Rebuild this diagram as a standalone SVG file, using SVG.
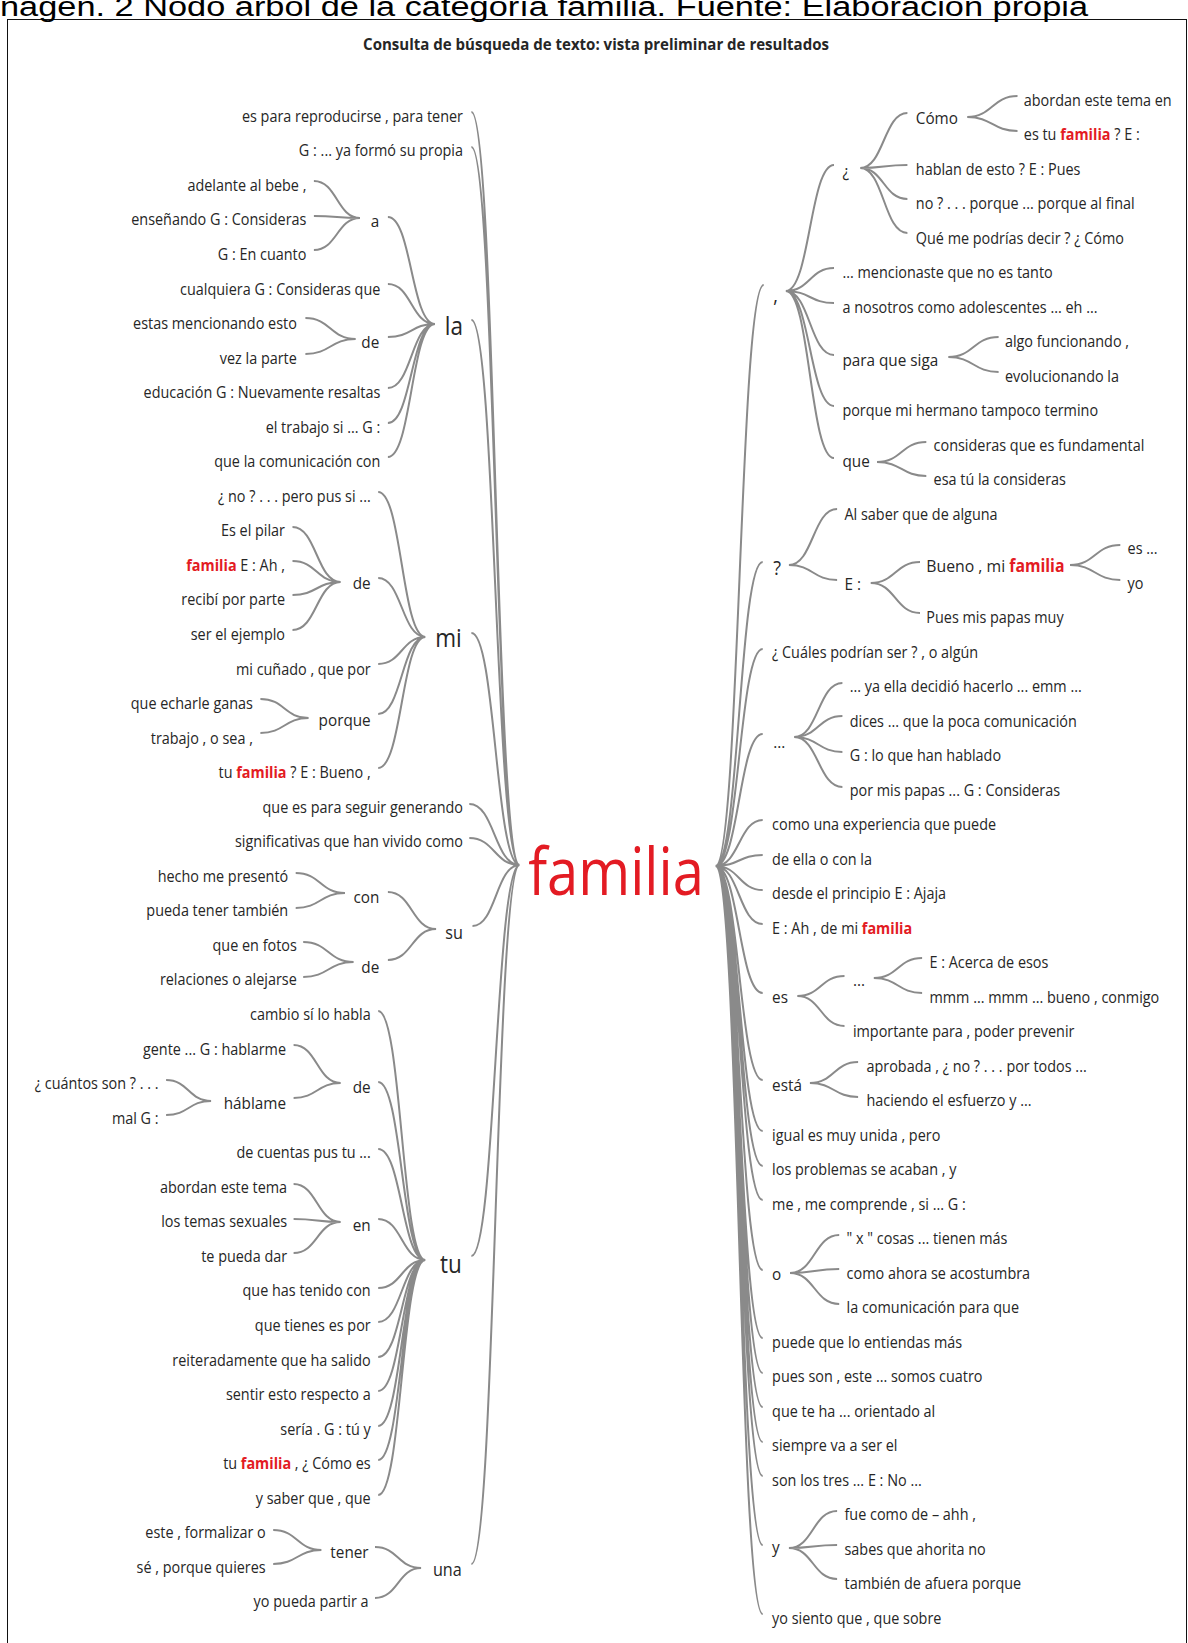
<svg xmlns="http://www.w3.org/2000/svg" width="1188" height="1643" viewBox="0 0 1188 1643">
<style>
.t{font-family:"Open Sans","Noto Sans","Liberation Sans",sans-serif;font-size:16px;fill:#262626}
.e{text-anchor:end}
.m{font-size:17px}
.b{font-size:25px}
.s{font-size:18px}
.r{fill:#e31b23;font-weight:bold}
.c path{fill:none;stroke:#8a8a8a;stroke-width:2}
</style>
<rect x="7.5" y="19.5" width="1179" height="1650" fill="#fff" stroke="#111" stroke-width="1"/>
<text x="0" y="16" font-family="Liberation Sans,Arial,sans-serif" font-size="27" fill="#000" textLength="1088" lengthAdjust="spacingAndGlyphs">nagen. 2 Nodo árbol de la categoría familia. Fuente: Elaboración propia</text>
<g id="title"><text class="t" font-weight="bold" text-anchor="middle" transform="translate(596 50) scale(.94 1)">Consulta de búsqueda de texto: vista preliminar de resultados</text></g>

<g id="connectors" class="c">
<path d="M471.4 112C495.5 112 495.5 865 519.6 865M471.4 147C495.5 147 495.5 865 519.6 865M471.4 320C495.5 320 495.5 865 519.6 865M471.4 633C495.5 633 495.5 865 519.6 865M469.3 804C494.5 804 494.5 865 519.6 865M469.3 838C494.5 838 494.5 865 519.6 865M472.5 926C496 926 496 865 519.6 865M471.4 1256C495.5 1256 495.5 865 519.6 865M471.4 1564C495.5 1564 495.5 865 519.6 865"/>
<path d="M387.9 217C411.4 217 411.4 324 435 324M387.9 284C411.4 284 411.4 324 435 324M387.9 337C411.4 337 411.4 324 435 324M387.9 388C411.4 388 411.4 324 435 324M387.9 423C411.4 423 411.4 324 435 324M387.9 457C411.4 457 411.4 324 435 324"/>
<path d="M313.9 181C337 181 337 218 360 218M313.9 216C337 216 337 218 360 218M313.9 250C337 250 337 218 360 218"/>
<path d="M305.4 318C330.5 318 330.5 339 355.7 339M305.4 354C330.5 354 330.5 339 355.7 339"/>
<path d="M378.2 492C401.8 492 401.8 637 425.4 637M378.2 578C401.8 578 401.8 637 425.4 637M378.2 664C401.8 664 401.8 637 425.4 637M378.2 714C401.8 714 401.8 637 425.4 637M378.2 768C401.8 768 401.8 637 425.4 637"/>
<path d="M292.5 527C316.6 527 316.6 582 340.7 582M292.5 561C316.6 561 316.6 582 340.7 582M292.5 595C316.6 595 316.6 582 340.7 582M292.5 630C316.6 630 316.6 582 340.7 582"/>
<path d="M260.4 699C284.5 699 284.5 718 308.6 718M260.4 733C284.5 733 284.5 718 308.6 718"/>
<path d="M387.9 892C412 892 412 929 436.1 929M387.9 960C412 960 412 929 436.1 929"/>
<path d="M295.7 873C320.4 873 320.4 893 345 893M295.7 908C320.4 908 320.4 893 345 893"/>
<path d="M303.2 942C328.4 942 328.4 962 353.6 962M303.2 977C328.4 977 328.4 962 353.6 962"/>
<path d="M378.2 1011C401.8 1011 401.8 1260 425.4 1260M378.2 1082C401.8 1082 401.8 1260 425.4 1260M378.2 1149C401.8 1149 401.8 1260 425.4 1260M378.2 1219C401.8 1219 401.8 1260 425.4 1260M378.2 1288C401.8 1288 401.8 1260 425.4 1260M378.2 1322C401.8 1322 401.8 1260 425.4 1260M378.2 1357C401.8 1357 401.8 1260 425.4 1260M378.2 1391C401.8 1391 401.8 1260 425.4 1260M378.2 1426C401.8 1426 401.8 1260 425.4 1260M378.2 1460C401.8 1460 401.8 1260 425.4 1260M378.2 1495C401.8 1495 401.8 1260 425.4 1260"/>
<path d="M293.6 1045C317.1 1045 317.1 1083 340.7 1083M293.6 1098C317.1 1098 317.1 1083 340.7 1083"/>
<path d="M166.1 1080C188.6 1080 188.6 1101 211.1 1101M166.1 1115C188.6 1115 188.6 1101 211.1 1101"/>
<path d="M293.6 1184C317.1 1184 317.1 1222 340.7 1222M293.6 1219C317.1 1219 317.1 1222 340.7 1222M293.6 1253C317.1 1253 317.1 1222 340.7 1222"/>
<path d="M375 1547C398 1547 398 1568 421.1 1568M375 1598C398 1598 398 1568 421.1 1568"/>
<path d="M273.2 1530C297.3 1530 297.3 1550 321.4 1550M273.2 1564C297.3 1564 297.3 1550 321.4 1550"/>
<path d="M715.5 866C739.6 866 739.6 285 763.7 285M715.5 866C739.1 866 739.1 562 762.7 562M715.5 866C739.1 866 739.1 649 762.7 649M715.5 866C739.1 866 739.1 734 762.7 734M715.5 866C739.1 866 739.1 820 762.7 820M715.5 866C739.1 866 739.1 855 762.7 855M715.5 866C739.1 866 739.1 890 762.7 890M715.5 866C739.1 866 739.1 924 762.7 924M715.5 866C739.1 866 739.1 993 762.7 993M715.5 866C739.1 866 739.1 1080 762.7 1080M715.5 866C739.1 866 739.1 1131 762.7 1131M715.5 866C739.1 866 739.1 1166 762.7 1166M715.5 866C739.1 866 739.1 1200 762.7 1200M715.5 866C739.1 866 739.1 1270 762.7 1270M715.5 866C739.1 866 739.1 1338 762.7 1338M715.5 866C739.1 866 739.1 1373 762.7 1373M715.5 866C739.1 866 739.1 1407 762.7 1407M715.5 866C739.1 866 739.1 1442 762.7 1442M715.5 866C739.1 866 739.1 1476 762.7 1476M715.5 866C739.1 866 739.1 1545 762.7 1545M715.5 866C739.1 866 739.1 1614 762.7 1614"/>
<path d="M785.8 291C809.9 291 809.9 165 834 165M785.8 291C809.9 291 809.9 268 834 268M785.8 291C809.9 291 809.9 303 834 303M785.8 291C809.9 291 809.9 355 834 355M785.8 291C809.9 291 809.9 406 834 406M785.8 291C809.9 291 809.9 458 834 458"/>
<path d="M860.2 168C883.8 168 883.8 113 907.4 113M860.2 168C883.8 168 883.8 165 907.4 165M860.2 168C883.8 168 883.8 199 907.4 199M860.2 168C883.8 168 883.8 233 907.4 233"/>
<path d="M967.2 117C992.3 117 992.3 96 1017.5 96M967.2 117C992.3 117 992.3 131 1017.5 131"/>
<path d="M948.3 357C973.5 357 973.5 337 998.6 337M948.3 357C973.5 357 973.5 372 998.6 372"/>
<path d="M877 462C901.6 462 901.6 442 926.3 442M877 462C901.6 462 901.6 476 926.3 476"/>
<path d="M788.9 565C813 565 813 509 837.1 509M788.9 565C813 565 813 580 837.1 580"/>
<path d="M870.7 583C895.3 583 895.3 562 920 562M870.7 583C895.3 583 895.3 613 920 613"/>
<path d="M1070 565C1095.1 565 1095.1 545 1120.3 545M1070 565C1095.1 565 1095.1 580 1120.3 580"/>
<path d="M794.1 737C818.3 737 818.3 683 842.4 683M794.1 737C818.3 737 818.3 716 842.4 716M794.1 737C818.3 737 818.3 752 842.4 752M794.1 737C818.3 737 818.3 787 842.4 787"/>
<path d="M797.3 996C820.9 996 820.9 976 844.5 976M797.3 996C820.9 996 820.9 1026 844.5 1026"/>
<path d="M873.8 978C898 978 898 958 922.1 958M873.8 978C898 978 898 993 922.1 993"/>
<path d="M809.9 1083C834 1083 834 1062 858.1 1062M809.9 1083C834 1083 834 1097 858.1 1097"/>
<path d="M790 1273C814.6 1273 814.6 1235 839.2 1235M790 1273C814.6 1273 814.6 1269 839.2 1269M790 1273C814.6 1273 814.6 1304 839.2 1304"/>
<path d="M788.9 1548C813 1548 813 1511 837.1 1511M788.9 1548C813 1548 813 1545 837.1 1545M788.9 1548C813 1548 813 1579 837.1 1579"/>
</g>

<g id="root"><text class="t" text-anchor="middle" style="font-size:66px;fill:#e31b23" transform="translate(616 895) scale(.85 1)">familia</text></g>

<g id="left-nodes">
<g id="n-la"><text class="t e b" transform="translate(463 335) scale(.9 1)">la</text></g>
<g id="n-mi"><text class="t e b" transform="translate(461.8 647) scale(.9 1)">mi</text></g>
<g id="n-su"><text class="t e s" transform="translate(463 939) scale(.9 1)">su</text></g>
<g id="n-tu"><text class="t e b" transform="translate(461.8 1273) scale(.9 1)">tu</text></g>
<g id="n-una"><text class="t e s" transform="translate(461.8 1576) scale(.9 1)">una</text></g>
<g id="n-a"><text class="t e m" transform="translate(379.3 227) scale(.9 1)">a</text></g>
<g id="n-de1"><text class="t e m" transform="translate(379.3 348) scale(.9 1)">de</text></g>
<g id="n-de2"><text class="t e m" transform="translate(370.7 589) scale(.9 1)">de</text></g>
<g id="n-porque"><text class="t e m" transform="translate(370.7 726) scale(.9 1)">porque</text></g>
<g id="n-con"><text class="t e m" transform="translate(379.3 903) scale(.9 1)">con</text></g>
<g id="n-de3"><text class="t e m" transform="translate(379.3 973) scale(.9 1)">de</text></g>
<g id="n-de4"><text class="t e m" transform="translate(370.7 1093) scale(.9 1)">de</text></g>
<g id="n-hablame"><text class="t e m" transform="translate(286 1109) scale(.9 1)">háblame</text></g>
<g id="n-en"><text class="t e m" transform="translate(370.7 1231) scale(.9 1)">en</text></g>
<g id="n-tener"><text class="t e m" transform="translate(368.6 1558) scale(.9 1)">tener</text></g>

<g id="l1"><text class="t e" transform="translate(463 122) scale(.9 1)">es para reproducirse , para tener</text></g>
<g id="l2"><text class="t e" transform="translate(463 156) scale(.9 1)">G : ... ya formó su propia</text></g>
<g id="l3"><text class="t e" transform="translate(306.4 191) scale(.9 1)">adelante al bebe ,</text></g>
<g id="l4"><text class="t e" transform="translate(306.4 225) scale(.9 1)">enseñando G : Consideras</text></g>
<g id="l5"><text class="t e" transform="translate(306.4 260) scale(.9 1)">G : En cuanto</text></g>
<g id="l6"><text class="t e" transform="translate(380.3 294.5) scale(.9 1)">cualquiera G : Consideras que</text></g>
<g id="l7"><text class="t e" transform="translate(296.8 329) scale(.9 1)">estas mencionando esto</text></g>
<g id="l8"><text class="t e" transform="translate(296.8 364) scale(.9 1)">vez la parte</text></g>
<g id="l9"><text class="t e" transform="translate(380.3 398) scale(.9 1)">educación G : Nuevamente resaltas</text></g>
<g id="l10"><text class="t e" transform="translate(380.3 433) scale(.9 1)">el trabajo si ... G :</text></g>
<g id="l11"><text class="t e" transform="translate(380.3 467) scale(.9 1)">que la comunicación con</text></g>
<g id="l12"><text class="t e" transform="translate(370.7 502) scale(.9 1)">¿ no ? . . . pero pus si ...</text></g>
<g id="l13"><text class="t e" transform="translate(285 536) scale(.9 1)">Es el pilar</text></g>
<g id="l14"><text class="t e" transform="translate(285 571) scale(.9 1)"><tspan class="r">familia</tspan> E : Ah ,</text></g>
<g id="l15"><text class="t e" transform="translate(285 605) scale(.9 1)">recibí por parte</text></g>
<g id="l16"><text class="t e" transform="translate(285 640) scale(.9 1)">ser el ejemplo</text></g>
<g id="l17"><text class="t e" transform="translate(370.7 674.5) scale(.9 1)">mi cuñado , que por</text></g>
<g id="l18"><text class="t e" transform="translate(252.9 709) scale(.9 1)">que echarle ganas</text></g>
<g id="l19"><text class="t e" transform="translate(252.9 744) scale(.9 1)">trabajo , o sea ,</text></g>
<g id="l20"><text class="t e" transform="translate(370.7 778) scale(.9 1)">tu <tspan class="r">familia</tspan> ? E : Bueno ,</text></g>
<g id="l21"><text class="t e" transform="translate(463 813) scale(.9 1)">que es para seguir generando</text></g>
<g id="l22"><text class="t e" transform="translate(463 847) scale(.9 1)">significativas que han vivido como</text></g>
<g id="l23"><text class="t e" transform="translate(288.2 882) scale(.9 1)">hecho me presentó</text></g>
<g id="l24"><text class="t e" transform="translate(288.2 916) scale(.9 1)">pueda tener también</text></g>
<g id="l25"><text class="t e" transform="translate(296.8 951) scale(.9 1)">que en fotos</text></g>
<g id="l26"><text class="t e" transform="translate(296.8 985) scale(.9 1)">relaciones o alejarse</text></g>
<g id="l27"><text class="t e" transform="translate(370.7 1020) scale(.9 1)">cambio sí lo habla</text></g>
<g id="l28"><text class="t e" transform="translate(286 1055) scale(.9 1)">gente ... G : hablarme</text></g>
<g id="l29"><text class="t e" transform="translate(158.6 1089) scale(.9 1)">¿ cuántos son ? . . .</text></g>
<g id="l30"><text class="t e" transform="translate(158.6 1124) scale(.9 1)">mal G :</text></g>
<g id="l31"><text class="t e" transform="translate(370.7 1158) scale(.9 1)">de cuentas pus tu ...</text></g>
<g id="l32"><text class="t e" transform="translate(287.1 1193) scale(.9 1)">abordan este tema</text></g>
<g id="l33"><text class="t e" transform="translate(287.1 1227) scale(.9 1)">los temas sexuales</text></g>
<g id="l34"><text class="t e" transform="translate(287.1 1262) scale(.9 1)">te pueda dar</text></g>
<g id="l35"><text class="t e" transform="translate(370.7 1296) scale(.9 1)">que has tenido con</text></g>
<g id="l36"><text class="t e" transform="translate(370.7 1331) scale(.9 1)">que tienes es por</text></g>
<g id="l37"><text class="t e" transform="translate(370.7 1365.5) scale(.9 1)">reiteradamente que ha salido</text></g>
<g id="l38"><text class="t e" transform="translate(370.7 1400) scale(.9 1)">sentir esto respecto a</text></g>
<g id="l39"><text class="t e" transform="translate(370.7 1435) scale(.9 1)">sería . G : tú y</text></g>
<g id="l40"><text class="t e" transform="translate(370.7 1469) scale(.9 1)">tu <tspan class="r">familia</tspan> , ¿ Cómo es</text></g>
<g id="l41"><text class="t e" transform="translate(370.7 1504) scale(.9 1)">y saber que , que</text></g>
<g id="l42"><text class="t e" transform="translate(265.7 1538) scale(.9 1)">este , formalizar o</text></g>
<g id="l43"><text class="t e" transform="translate(265.7 1573) scale(.9 1)">sé , porque quieres</text></g>
<g id="l44"><text class="t e" transform="translate(368.6 1607) scale(.9 1)">yo pueda partir a</text></g>
</g>

<g id="right-nodes">
<g id="n-coma"><text class="t" style="font-size:20px" transform="translate(773.2 302) scale(.9 1)">,</text></g>
<g id="n-inq"><text class="t m" transform="translate(842.4 177) scale(.9 1)">¿</text></g>
<g id="n-como"><text class="t m" transform="translate(915.8 124) scale(.9 1)">Cómo</text></g>
<g id="n-paraque"><text class="t m" transform="translate(842.4 366) scale(.9 1)">para que siga</text></g>
<g id="n-que"><text class="t m" transform="translate(842.4 467) scale(.9 1)">que</text></g>
<g id="n-q"><text class="t" style="font-size:20px" transform="translate(773.2 575) scale(.9 1)">?</text></g>
<g id="n-E"><text class="t m" transform="translate(844.5 590) scale(.9 1)">E :</text></g>
<g id="n-bueno"><text class="t m" transform="translate(926.3 572) scale(.93 1)">Bueno , mi <tspan class="r">familia</tspan></text></g>
<g id="n-dots1"><text class="t m" transform="translate(773.2 748) scale(.9 1)">...</text></g>
<g id="n-es"><text class="t m" transform="translate(772.1 1003) scale(.9 1)">es</text></g>
<g id="n-dots2"><text class="t m" transform="translate(852.9 986) scale(.9 1)">...</text></g>
<g id="n-esta"><text class="t m" transform="translate(772.1 1091) scale(.9 1)">está</text></g>
<g id="n-o"><text class="t m" transform="translate(772.1 1280) scale(.9 1)">o</text></g>
<g id="n-y"><text class="t m" transform="translate(772.1 1553) scale(.9 1)">y</text></g>

<g id="r1"><text class="t" transform="translate(1023.8 106) scale(.9 1)">abordan este tema en</text></g>
<g id="r2"><text class="t" transform="translate(1023.8 140) scale(.9 1)">es tu <tspan class="r">familia</tspan> ? E :</text></g>
<g id="r3"><text class="t" transform="translate(915.8 175) scale(.9 1)">hablan de esto ? E : Pues</text></g>
<g id="r4"><text class="t" transform="translate(915.8 209) scale(.9 1)">no ? . . . porque ... porque al final</text></g>
<g id="r5"><text class="t" transform="translate(915.8 244) scale(.9 1)">Qué me podrías decir ? ¿ Cómo</text></g>
<g id="r6"><text class="t" transform="translate(842.4 278) scale(.9 1)">... mencionaste que no es tanto</text></g>
<g id="r7"><text class="t" transform="translate(842.4 313) scale(.9 1)">a nosotros como adolescentes ... eh ...</text></g>
<g id="r8"><text class="t" transform="translate(1004.9 347) scale(.9 1)">algo funcionando ,</text></g>
<g id="r9"><text class="t" transform="translate(1004.9 382) scale(.9 1)">evolucionando la</text></g>
<g id="r10"><text class="t" transform="translate(842.4 416) scale(.9 1)">porque mi hermano tampoco termino</text></g>
<g id="r11"><text class="t" transform="translate(933.6 451) scale(.9 1)">consideras que es fundamental</text></g>
<g id="r12"><text class="t" transform="translate(933.6 485) scale(.9 1)">esa tú la consideras</text></g>
<g id="r13"><text class="t" transform="translate(844.5 520) scale(.9 1)">Al saber que de alguna</text></g>
<g id="r14"><text class="t" transform="translate(1127.6 554) scale(.9 1)">es ...</text></g>
<g id="r15"><text class="t" transform="translate(1127.6 589) scale(.9 1)">yo</text></g>
<g id="r16"><text class="t" transform="translate(926.3 623) scale(.9 1)">Pues mis papas muy</text></g>
<g id="r17"><text class="t" transform="translate(772.1 658) scale(.9 1)">¿ Cuáles podrían ser ? , o algún</text></g>
<g id="r18"><text class="t" transform="translate(849.7 692) scale(.9 1)">... ya ella decidió hacerlo ... emm ...</text></g>
<g id="r19"><text class="t" transform="translate(849.7 727) scale(.9 1)">dices ... que la poca comunicación</text></g>
<g id="r20"><text class="t" transform="translate(849.7 761) scale(.9 1)">G : lo que han hablado</text></g>
<g id="r21"><text class="t" transform="translate(849.7 796) scale(.9 1)">por mis papas ... G : Consideras</text></g>
<g id="r22"><text class="t" transform="translate(772.1 830) scale(.9 1)">como una experiencia que puede</text></g>
<g id="r23"><text class="t" transform="translate(772.1 865) scale(.9 1)">de ella o con la</text></g>
<g id="r24"><text class="t" transform="translate(772.1 899) scale(.9 1)">desde el principio E : Ajaja</text></g>
<g id="r25"><text class="t" transform="translate(772.1 934) scale(.9 1)">E : Ah , de mi <tspan class="r">familia</tspan></text></g>
<g id="r26"><text class="t" transform="translate(929.4 968) scale(.9 1)">E : Acerca de esos</text></g>
<g id="r27"><text class="t" transform="translate(929.4 1003) scale(.9 1)">mmm ... mmm ... bueno , conmigo</text></g>
<g id="r28"><text class="t" transform="translate(852.9 1037) scale(.9 1)">importante para , poder prevenir</text></g>
<g id="r29"><text class="t" transform="translate(866.5 1072) scale(.9 1)">aprobada , ¿ no ? . . . por todos ...</text></g>
<g id="r30"><text class="t" transform="translate(866.5 1106) scale(.9 1)">haciendo el esfuerzo y ...</text></g>
<g id="r31"><text class="t" transform="translate(772.1 1141) scale(.9 1)">igual es muy unida , pero</text></g>
<g id="r32"><text class="t" transform="translate(772.1 1175) scale(.9 1)">los problemas se acaban , y</text></g>
<g id="r33"><text class="t" transform="translate(772.1 1210) scale(.9 1)">me , me comprende , si ... G :</text></g>
<g id="r34"><text class="t" transform="translate(846.6 1244) scale(.9 1)">" x " cosas ... tienen más</text></g>
<g id="r35"><text class="t" transform="translate(846.6 1279) scale(.9 1)">como ahora se acostumbra</text></g>
<g id="r36"><text class="t" transform="translate(846.6 1313) scale(.9 1)">la comunicación para que</text></g>
<g id="r37"><text class="t" transform="translate(772.1 1348) scale(.9 1)">puede que lo entiendas más</text></g>
<g id="r38"><text class="t" transform="translate(772.1 1382) scale(.9 1)">pues son , este ... somos cuatro</text></g>
<g id="r39"><text class="t" transform="translate(772.1 1417) scale(.9 1)">que te ha ... orientado al</text></g>
<g id="r40"><text class="t" transform="translate(772.1 1451) scale(.9 1)">siempre va a ser el</text></g>
<g id="r41"><text class="t" transform="translate(772.1 1486) scale(.9 1)">son los tres ... E : No ...</text></g>
<g id="r42"><text class="t" transform="translate(844.5 1520) scale(.9 1)">fue como de – ahh ,</text></g>
<g id="r43"><text class="t" transform="translate(844.5 1555) scale(.9 1)">sabes que ahorita no</text></g>
<g id="r44"><text class="t" transform="translate(844.5 1589) scale(.9 1)">también de afuera porque</text></g>
<g id="r45"><text class="t" transform="translate(772.1 1624) scale(.9 1)">yo siento que , que sobre</text></g>
</g>
</svg>
